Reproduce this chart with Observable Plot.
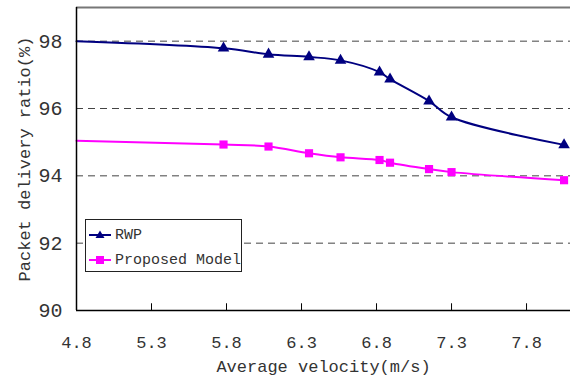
<!DOCTYPE html>
<html>
<head>
<meta charset="utf-8">
<script src="https://cdn.jsdelivr.net/npm/d3@7"></script>
<script src="https://cdn.jsdelivr.net/npm/@observablehq/plot@0.6"></script>
<style>
  html, body { margin: 0; padding: 0; background: #fff; }
  #wrap { position: relative; width: 570px; height: 380px; }
  #wrap svg text { font-family: "Liberation Mono", monospace; }
  #wrap svg text.serif { font-family: "Liberation Serif", "DejaVu Serif", serif; }
  #legend { position: absolute; left: 85px; top: 219px; width: 155px; height: 51px;
    border: 1px solid #222; background: #fff; font-family: "Liberation Mono", monospace;
    font-size: 15px; color: #333; white-space: nowrap; }
  .row { position: absolute; left: 3px; height: 20px; display: flex; align-items: center; }
  .row svg { margin-right: 4px; }
</style>
</head>
<body>
<div id="wrap"></div>
<script>
const velocity = [4.8, 5.78, 6.08, 6.35, 6.56, 6.82, 6.89, 7.15, 7.3, 8.05];
const rwp      = [98.0, 97.79, 97.61, 97.53, 97.43, 97.08, 96.87, 96.22, 95.74, 94.92];
const proposed = [95.04, 94.93, 94.87, 94.67, 94.55, 94.47, 94.39, 94.2, 94.11, 93.87];
const seriesNames = ["RWP", "Proposed Model"];
const seriesColors = ["#000080", "#FF00FF"];
const xTicks = [4.8, 5.3, 5.8, 6.3, 6.8, 7.3, 7.8];
const yTicks = [90, 92, 94, 96, 98];
const gridValues = [92, 94, 96, 98];
const xDomain = [4.8, 8.093];
const yDomain = [90, 99];

const rwpData = velocity.map((v, i) => ({x: v, y: rwp[i]}));
const propData = velocity.map((v, i) => ({x: v, y: proposed[i]}));

const chart = Plot.plot({
  width: 570,
  height: 380,
  marginLeft: 76,
  marginRight: 0,
  marginTop: 7,
  marginBottom: 70,
  style: {fontSize: "16px", color: "#333", background: "#fff"},
  x: {domain: xDomain},
  y: {domain: yDomain, axis: null},
  marks: [
    Plot.ruleY(gridValues, {stroke: "#444", strokeWidth: 1, strokeDasharray: "7,5"}),
    Plot.ruleY([yDomain[1]], {stroke: "#777", strokeWidth: 2}),
    Plot.ruleX(xTicks.slice(1), {x: d => d, y1: yDomain[0], y2: yDomain[0] + 0.2, stroke: "#000"}),
    Plot.axisX({ticks: xTicks, tickSize: 0, tickPadding: 25, tickFormat: d3.format(".1f"),
      fontSize: 17, fill: "#333", label: null}),
    Plot.text(yTicks, {x: xDomain[0], y: d => d, text: d => String(d), textAnchor: "end", dx: -14,
      fontSize: 20, fill: "#333", className: "serif"}),
    Plot.text(["Average velocity(m/s)"], {frameAnchor: "bottom", dy: 61, text: d => d,
      fontSize: 17, fill: "#333"}),
    Plot.text(["Packet delivery ratio(%)"], {frameAnchor: "left", dx: -52, rotate: -90, textAnchor: "middle",
      text: d => d, fontSize: 17, fill: "#333"}),
    Plot.line(rwpData, {x: "x", y: "y", stroke: seriesColors[0], strokeWidth: 2, curve: "catmull-rom"}),
    Plot.dot(rwpData.slice(1), {x: "x", y: "y", symbol: "triangle", r: 4.3, fill: seriesColors[0], stroke: "none"}),
    Plot.line(propData, {x: "x", y: "y", stroke: seriesColors[1], strokeWidth: 2, curve: "catmull-rom"}),
    Plot.dot(propData.slice(1), {x: "x", y: "y", symbol: "square", r: 4.6, fill: seriesColors[1], stroke: "none"}),
    Plot.ruleX([xDomain[0]], {stroke: "#000", strokeWidth: 1.5}),
    Plot.ruleY([yDomain[0]], {stroke: "#000", strokeWidth: 1.5})
  ]
});
document.getElementById("wrap").appendChild(chart);

const legend = document.createElement("div");
legend.id = "legend";
const symbols = [
  '<polygon points="11,1.5 15.5,9 6.5,9" fill="#000080"/>',
  '<rect x="7" y="2" width="8" height="8" fill="#FF00FF"/>'
];
seriesNames.forEach((name, i) => {
  const row = document.createElement("div");
  row.className = "row";
  row.style.top = (i === 0 ? 5 : 30) + "px";
  row.innerHTML = `<svg width="22" height="12"><line x1="0" x2="22" y1="6" y2="6" stroke="${seriesColors[i]}" stroke-width="2"/>${symbols[i]}</svg><span>${name}</span>`;
  legend.appendChild(row);
});
document.getElementById("wrap").appendChild(legend);
</script>
</body>
</html>
